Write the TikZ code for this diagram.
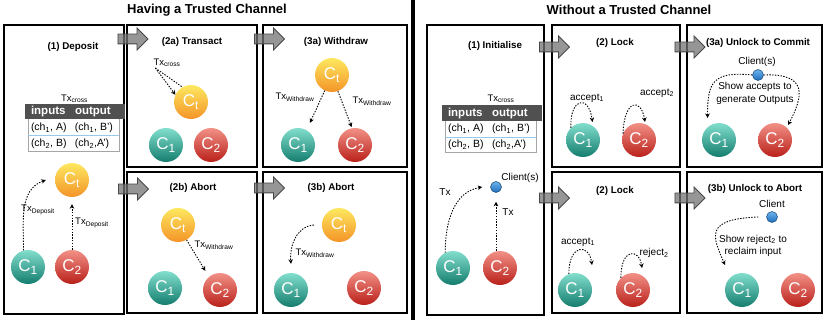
\documentclass[tikz,border=0pt]{standalone}
\usepackage{fontspec}
\setmainfont{Liberation Sans}
\usepackage[table]{xcolor}
\usepackage{tikz}
\usetikzlibrary{arrows.meta,shapes.arrows}

\definecolor{tealtop}{RGB}{130,222,205}
\definecolor{tealbot}{RGB}{20,125,110}
\definecolor{redtop}{RGB}{242,145,135}
\definecolor{redbot}{RGB}{185,32,26}
\definecolor{ambtop}{RGB}{253,232,95}
\definecolor{ambbot}{RGB}{244,148,40}
\definecolor{dottop}{RGB}{110,180,235}
\definecolor{dotbot}{RGB}{30,110,190}
\definecolor{hdrgray}{RGB}{80,80,80}
\definecolor{rowline}{RGB}{150,200,235}

\newcommand{\crosstable}{%
  \renewcommand{\arraystretch}{1.25}%
  \arrayrulecolor{rowline}%
  \begin{tabular}{@{\hspace{3pt}}p{42pt}@{\hspace{2pt}}p{44pt}@{}}
  \rowcolor{hdrgray}\textcolor{white}{\bfseries\fontsize{11.5}{13}\selectfont inputs} & \textcolor{white}{\bfseries\fontsize{11.5}{13}\selectfont output}\\
  (ch\textsubscript{1}, A) & (ch\textsubscript{1}, B')\\ \hline
  (ch\textsubscript{2}, B) & (ch\textsubscript{2},A')
  \end{tabular}}

\begin{document}
\begin{tikzpicture}[x=1pt, y=-1pt,
  panel/.style={draw, line width=1.5pt, inner sep=0pt},
  head/.style={font=\fontsize{13}{15}\selectfont\bfseries},
  ptitle/.style={font=\fontsize{9.8}{11}\selectfont\bfseries},
  flow/.style={single arrow, draw=black!72, fill=black!55, fill opacity=0.75, line width=0.8pt,
    minimum height=30pt, inner sep=4.5pt, single arrow head extend=6pt, single arrow tip angle=90},
  coin/.style={circle, minimum size=34pt, inner sep=0pt, text=white, font=\fontsize{17}{17}\selectfont},
  cone/.style={coin, top color=tealtop, bottom color=tealbot},
  ctwo/.style={coin, top color=redtop, bottom color=redbot},
  ctee/.style={coin, top color=ambtop, bottom color=ambbot},
  client/.style={circle, minimum size=11pt, inner sep=0pt, top color=dottop, bottom color=dotbot, draw=dotbot!60!black, line width=0.5pt},
  txlbl/.style={font=\fontsize{9.5}{11}\selectfont, inner sep=1pt},
  note/.style={font=\fontsize{10}{12.5}\selectfont, inner sep=1pt, align=center},
  tbl/.style={draw=gray!70, line width=0.6pt, inner sep=0pt, font=\fontsize{10.5}{12.5}\selectfont},
  txline/.style={line width=0.9pt, dash pattern=on 1.4pt off 1.4pt},
  txarr/.style={txline, -{Stealth[length=4.5pt,width=4.5pt]}}]

\useasboundingbox (0,0) rectangle (824,320);

% headings and divider
\node[head] (titleL) at (207,10) {Having a Trusted Channel};
\node[head] (titleR) at (629,10) {Without a Trusted Channel};
\draw[line width=4pt] (413,0) -- (413,320);

% panels
\node[panel, minimum width=120pt, minimum height=289pt] (deposit) at (64,169.5) {};
\node[panel, minimum width=130pt, minimum height=142pt] (transact) at (192,96) {};
\node[panel, minimum width=144pt, minimum height=142pt] (withdraw) at (335,96) {};
\node[panel, minimum width=130pt, minimum height=141pt] (abortA) at (192,242.5) {};
\node[panel, minimum width=144pt, minimum height=141pt] (abortB) at (335,242.5) {};
\node[panel, minimum width=117pt, minimum height=290pt] (initialise) at (485.5,170) {};
\node[panel, minimum width=128pt, minimum height=142pt] (lockA) at (616,96) {};
\node[panel, minimum width=135pt, minimum height=142pt] (commit) at (754.5,96) {};
\node[panel, minimum width=128pt, minimum height=141pt] (lockB) at (616,242.5) {};
\node[panel, minimum width=135pt, minimum height=141pt] (reclaim) at (754.5,242.5) {};

% flow arrows between panels
\node[flow] (dep2tra) at (130.5,39) {};
\node[flow] (tra2wit) at (267,39) {};
\node[flow] (dep2aba) at (131,189) {};
\node[flow] (aba2abb) at (267,188) {};
\node[flow] (ini2loa) at (552,47) {};
\node[flow] (loa2com) at (687.5,47) {};
\node[flow] (ini2lob) at (552,198) {};
\node[flow] (lob2rec) at (687.5,198) {};

% (1) Deposit
\node[ptitle] (dep-t) at (73,47) {(1) Deposit};
\node[txlbl] (dep-x) at (74.5,99) {Tx\textsubscript{cross}};
\node[tbl] (dep-tab) at (73.5,127.5) {\crosstable};
\node[ctee] (dep-ct) at (72,180) {C\textsubscript{t}};
\node[cone] (dep-c1) at (28,267) {C\textsubscript{1}};
\node[ctwo] (dep-c2) at (72,267) {C\textsubscript{2}};
\draw[txarr] (dep-c1.105) to[out=90,in=200] ([xshift=-9pt]dep-ct.west);
\draw[txarr, shorten >=7pt] (dep-c2) -- (dep-ct);
\node[txlbl] (dep-l1) at (38,210) {Tx\textsubscript{Deposit}};
\node[txlbl] (dep-l2) at (92,223) {Tx\textsubscript{Deposit}};

% (2a) Transact
\node[ptitle] (tra-t) at (192,42) {(2a) Transact};
\node[txlbl] (tra-x) at (167,63) {Tx\textsubscript{cross}};
\node[ctee] (tra-ct) at (191,102) {C\textsubscript{t}};
\node[cone] (tra-c1) at (166,145) {C\textsubscript{1}};
\node[ctwo] (tra-c2) at (211,145) {C\textsubscript{2}};
\draw[txarr] ([xshift=3pt]tra-x.south west) -- (tra-ct.155);
\draw[txline] ([xshift=3pt]tra-x.south west) -- (tra-ct.120);

% (3a) Withdraw
\node[ptitle] (wit-t) at (336,42) {(3a) Withdraw};
\node[ctee] (wit-ct) at (332,75) {C\textsubscript{t}};
\node[cone] (wit-c1) at (298,145) {C\textsubscript{1}};
\node[ctwo] (wit-c2) at (355,145) {C\textsubscript{2}};
\draw[txarr, shorten >=8pt] (wit-ct.245) -- (wit-c1.60);
\draw[txarr, shorten >=1pt] (wit-ct.290) -- (wit-c2.100);
\node[txlbl] (wit-l1) at (295,97) {Tx\textsubscript{Withdraw}};
\node[txlbl] (wit-l2) at (372,101) {Tx\textsubscript{Withdraw}};

% (2b) Abort
\node[ptitle] (aba-t) at (193,188) {(2b) Abort};
\node[ctee] (aba-ct) at (178,225) {C\textsubscript{t}};
\node[cone] (aba-c1) at (165,288) {C\textsubscript{1}};
\node[ctwo] (aba-c2) at (220,290) {C\textsubscript{2}};
\draw[txarr, shorten >=7pt] (aba-ct.300) -- (aba-c2.130);
\node[txlbl] (aba-l) at (214,245) {Tx\textsubscript{Withdraw}};

% (3b) Abort
\node[ptitle] (abb-t) at (331,188) {(3b) Abort};
\node[ctee] (abb-ct) at (339,225) {C\textsubscript{t}};
\node[cone] (abb-c1) at (291,290) {C\textsubscript{1}};
\node[ctwo] (abb-c2) at (364,288) {C\textsubscript{2}};
\draw[txarr] ([xshift=-8pt]abb-ct.west) to[out=185,in=95] ([yshift=9pt]abb-c1.north);
\node[txlbl] (abb-l) at (315,253) {Tx\textsubscript{Withdraw}};

% (1) Initialise
\node[ptitle] (ini-t) at (495,46) {(1) Initialise};
\node[txlbl] (ini-x) at (501,99) {Tx\textsubscript{cross}};
\node[tbl] (ini-tab) at (490.5,129) {\crosstable};
\node[client] (ini-cl) at (496,187) {};
\node[note] (ini-n) at (520,178) {Client(s)};
\node[cone] (ini-c1) at (453,268) {C\textsubscript{1}};
\node[ctwo] (ini-c2) at (500,268) {C\textsubscript{2}};
\draw[txarr] (ini-c1.117) to[out=90,in=190] ([xshift=-8pt]ini-cl.west);
\draw[txarr] (ini-cl |- ini-c2.north) -- ([yshift=-9pt]ini-cl.south);
\node[note] (ini-l1) at (445,192) {Tx};
\node[note] (ini-l2) at (508,212) {Tx};

% (2) Lock, upper
\node[ptitle] (loa-t) at (615,43) {(2) Lock};
\node[cone] (loa-c1) at (583,140) {C\textsubscript{1}};
\node[ctwo] (loa-c2) at (639,140) {C\textsubscript{2}};
\draw[txarr] (loa-c1.135) .. controls +(-1,-30) and +(-4,-28) .. ([shift={(9.5pt,18pt)}]loa-c1.center);
\draw[txarr] (loa-c2.158) .. controls +(1,-34) and +(-4,-25) .. ([shift={(6pt,18pt)}]loa-c2.center);
\node[note] (loa-l1) at (587,98) {accept\textsubscript{1}};
\node[note] (loa-l2) at (657,93) {accept\textsubscript{2}};

% (3a) Unlock to Commit
\node[ptitle] (com-t) at (758,43) {(3a) Unlock to Commit};
\node[note] (com-x) at (757,62) {Client(s)};
\node[client] (com-cl) at (758,75) {};
\node[note] (com-n) at (755,93.5) {Show accepts to\\generate Outputs};
\node[cone] (com-c1) at (719,140) {C\textsubscript{1}};
\node[ctwo] (com-c2) at (775,140) {C\textsubscript{2}};
\draw[txarr] (com-cl.west) .. controls +(-40,-4) and +(0,-35) .. ([shift={(-11.5pt,22pt)}]com-c1.center);
\draw[txarr] (com-cl.east) .. controls +(45,-2) and +(15,-28) .. ([shift={(13pt,15pt)}]com-c2.center);

% (2) Lock, lower
\node[ptitle] (lob-t) at (615,191) {(2) Lock};
\node[cone] (lob-c1) at (575,290) {C\textsubscript{1}};
\node[ctwo] (lob-c2) at (633,290) {C\textsubscript{2}};
\draw[txarr] (lob-c1.111) .. controls +(0,-30) and +(-3,-22) .. ([shift={(17pt,25pt)}]lob-c1.center);
\draw[txarr] (lob-c2.135) .. controls +(0,-30) and +(-3,-20) .. ([shift={(9pt,22pt)}]lob-c2.center);
\node[note] (lob-l1) at (578,242) {accept\textsubscript{1}};
\node[note] (lob-l2) at (654,253) {reject\textsubscript{2}};

% (3b) Unlock to Abort
\node[ptitle] (rec-t) at (755,189) {(3b) Unlock to Abort};
\node[note] (rec-x) at (772,204) {Client};
\node[client] (rec-cl) at (772,217) {};
\node[note] (rec-n) at (753,246) {Show reject\textsubscript{2} to\\reclaim input};
\node[cone] (rec-c1) at (742,290) {C\textsubscript{1}};
\node[ctwo] (rec-c2) at (798,290) {C\textsubscript{2}};
\draw[txarr] ([xshift=-8pt]rec-cl.west) .. controls +(-55,2) and +(-12,-28) .. ([shift={(-17pt,25pt)}]rec-c1.center);

\end{tikzpicture}
\end{document}
